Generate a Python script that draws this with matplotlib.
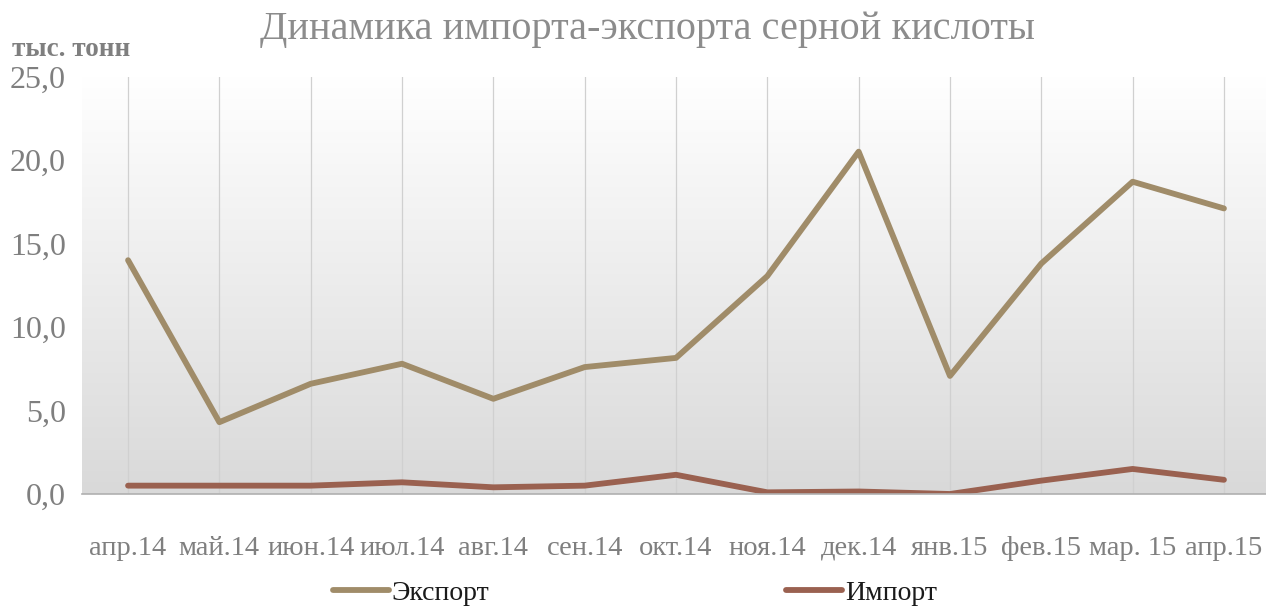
import numpy as np
import matplotlib
matplotlib.use("Agg")
from matplotlib import pyplot as plt
from matplotlib.colors import LinearSegmentedColormap

plt.rcParams['font.family'] = ['Liberation Serif', 'DejaVu Serif']

# data
months = ['апр.14', 'май.14', 'июн.14', 'июл.14', 'авг.14', 'сен.14', 'окт.14',
          'ноя.14', 'дек.14', 'янв.15', 'фев.15', 'мар. 15', 'апр.15']
export = [14.0, 4.3, 6.6, 7.8, 5.7, 7.6, 8.15, 13.05, 20.5, 7.07, 13.8, 18.7, 17.1]
imports = [0.5, 0.5, 0.5, 0.7, 0.4, 0.5, 1.15, 0.1, 0.15, 0.0, 0.8, 1.5, 0.85]
yticks = [0, 5, 10, 15, 20, 25]

W, H = 1266, 607
fig = plt.figure(figsize=(W / 100, H / 100), dpi=100)
ax = fig.add_axes([82.4 / W, 1 - 494 / H, (1269.6 - 82.4) / W, (494 - 76.5) / H])

x = np.arange(len(months))

# gradient background, white on top to grey at the bottom
cmap = LinearSegmentedColormap.from_list('bg', ['#ffffff', '#d9d9d9'])
grad = np.linspace(0, 1, 256).reshape(-1, 1)
ax.imshow(grad, cmap=cmap, aspect='auto', extent=(-0.5, len(months) - 0.5, 0, 25),
          zorder=0, origin='upper')
ax.set_xlim(-0.5, len(months) - 0.5)
ax.set_ylim(0, 25)

for xi in x:
    ax.axvline(xi, color='#d0d0d0', lw=0.9, zorder=1)

l1, = ax.plot(x, export, color='#A08C69', lw=4.2, solid_capstyle='round',
              solid_joinstyle='round', zorder=3, label='Экспорт')
l2, = ax.plot(x, imports, color='#9A6150', lw=4.2, solid_capstyle='round',
              solid_joinstyle='round', zorder=3, label='Импорт')

for s in ['top', 'right', 'left']:
    ax.spines[s].set_visible(False)
ax.spines['bottom'].set_color('#b0b0b0')
ax.spines['bottom'].set_linewidth(1.2)
ax.spines['bottom'].set_zorder(4)

ax.set_yticks(yticks)
ax.set_yticklabels([f'{v:.1f}'.replace('.', ',') for v in yticks])
ax.set_xticks(x)
ax.set_xticklabels(months)
ax.tick_params(axis='y', length=0, pad=12, labelsize=23, labelcolor='#7f7f7f')
ax.tick_params(axis='x', length=0, pad=30, labelsize=20.5, labelcolor='#7f7f7f')

fig.text(647 / W, 1 - 30 / H, 'Динамика импорта-экспорта серной кислоты',
         ha='center', va='center', fontsize=29, color='#8c8c8c')
fig.text(12 / W, 1 - 49 / H, 'тыс. тонн', ha='left', va='center',
         fontsize=19.5, fontweight='bold', color='#7f7f7f')

leg = fig.legend(handles=[l1, l2], loc='center', bbox_to_anchor=(635 / W, 1 - 593 / H),
                 ncol=2, frameon=False, fontsize=20, handlelength=2.0,
                 handletextpad=0.1, columnspacing=10.7)
for t in leg.get_texts():
    t.set_color('#1a1a1a')

fig.savefig('out.png', dpi=100)
